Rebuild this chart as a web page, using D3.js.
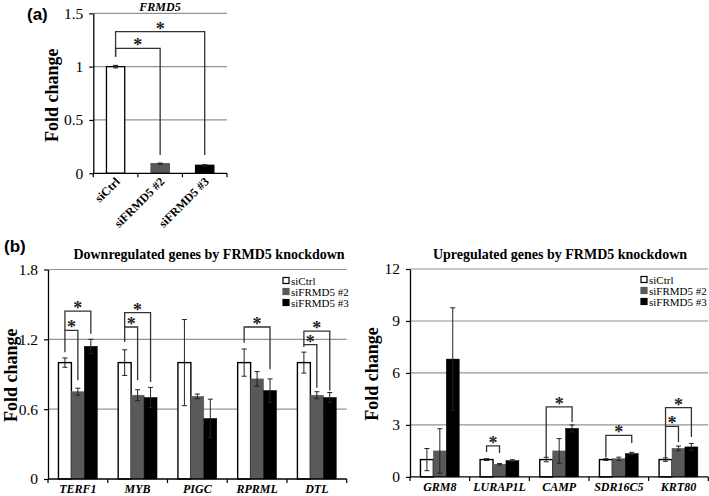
<!DOCTYPE html>
<html><head><meta charset="utf-8">
<script src="https://cdn.jsdelivr.net/npm/d3@7"></script>
<style>
body{margin:0;background:#fff;}
svg{display:block;}
text{font-family:"Liberation Serif","Times New Roman",serif;}
</style></head>
<body>
<svg id="chart" width="709" height="496"></svg>
<script>
// ---------- DATA ----------
const seriesNames = ["siCtrl", "siFRMD5 #2", "siFRMD5 #3"];
const seriesColors = ["#ffffff", "#595959", "#000000"];

// Panel (a)
const aCategories = ["siCtrl", "siFRMD5 #2", "siFRMD5 #3"];
const aValues = [1.0, 0.09, 0.075];
const aErrors = [0.012, 0.006, 0.006];
const aTicks = [0, 0.5, 1, 1.5];
// [from, to, top, leftEnd, rightEnd]
const aBrackets = [[0, 1, 1.172, 1.093, 0.172], [0, 2, 1.328, 1.093, 0.172]];

// Panel (b) left: downregulated
const downGenes = ["TERF1", "MYB", "PIGC", "RPRML", "DTL"];
const downCtrl = [1.0, 1.0, 1.0, 1.0, 1.0];
const downCtrlErr = [0.04, 0.11, 0.37, 0.117, 0.09];
const downSi2 = [0.75, 0.72, 0.71, 0.86, 0.72];
const downSi2Err = [0.03, 0.047, 0.02, 0.063, 0.03];
const downSi3 = [1.14, 0.70, 0.52, 0.76, 0.70];
const downSi3Err = [0.06, 0.087, 0.166, 0.10, 0.043];
const downTicks = [0, 0.6, 1.2, 1.8];
// [gene, from, to, top, leftEnd, rightEnd]
const downBrackets = [
  [0, 0, 1, 1.277, 1.09, 0.849],
  [0, 0, 2, 1.443, 1.277, 1.249],
  [1, 0, 1, 1.306, 1.177, 0.849],
  [1, 0, 2, 1.429, 1.306, 0.834],
  [3, 0, 2, 1.306, 1.171, 0.943],
  [4, 0, 1, 1.154, 1.134, 0.783],
  [4, 0, 2, 1.271, 1.154, 0.76]
];

// Panel (b) right: upregulated
const upGenes = ["GRM8", "LURAP1L", "CAMP", "SDR16C5", "KRT80"];
const upCtrl = [1.0, 1.0, 1.0, 1.0, 1.0];
const upCtrlErr = [0.64, 0.05, 0.13, 0.05, 0.10];
const upSi2 = [1.5, 0.73, 1.5, 1.05, 1.65];
const upSi2Err = [1.28, 0.04, 0.71, 0.09, 0.13];
const upSi3 = [6.8, 0.94, 2.8, 1.35, 1.73];
const upSi3Err = [2.96, 0.05, 0.2, 0.07, 0.2];
const upTicks = [0, 3, 6, 9, 12];
const upBrackets = [
  [1, 0, 1, 1.79, 1.44, 1.38],
  [2, 0, 2, 4.04, 1.14, 3.17],
  [3, 0, 2, 2.4, 1.12, 1.96],
  [4, 0, 1, 2.92, 1.12, 2.02],
  [4, 0, 2, 4.0, 2.92, 2.31]
];

// ---------- DRAW ----------
const svg = d3.select("#chart");
const GRID = "#939393";
const SERIF = "'Liberation Serif','Times New Roman',serif";

function yAxis(g, y, ticks, x0) {
  const ax = g.append("g").attr("transform", `translate(${x0},0)`)
    .call(d3.axisLeft(y).tickValues(ticks).tickSize(4).tickSizeOuter(0).tickPadding(6).tickFormat(d => String(d)));
  ax.attr("font-family", SERIF);
  ax.select(".domain").attr("stroke", "#000").attr("stroke-width", 1.3);
  ax.selectAll(".tick line").attr("stroke", "#000").attr("stroke-width", 1.2);
  ax.selectAll(".tick text").attr("font-size", 15.5).attr("fill", "#000")
    .attr("font-family", SERIF).style("font-family", SERIF);
}

function grid(g, y, ticks, x0, x1) {
  g.selectAll(null).data(ticks.filter(t => t !== 0)).join("line")
    .attr("x1", x0).attr("x2", x1).attr("y1", d => y(d)).attr("y2", d => y(d))
    .attr("stroke", GRID).attr("stroke-width", 1.2);
}

function errBar(g, cx, y, v, e, cap) {
  g.append("line").attr("x1", cx).attr("x2", cx).attr("y1", y(v + e)).attr("y2", y(Math.max(0, v - e)))
    .attr("stroke", "#222").attr("stroke-width", 1);
  [v + e, Math.max(0, v - e)].forEach(t => {
    g.append("line").attr("x1", cx - cap).attr("x2", cx + cap).attr("y1", y(t)).attr("y2", y(t))
      .attr("stroke", "#222").attr("stroke-width", 1);
  });
}

function bracket(g, xa, xb, y, top, la, rb) {
  const path = d3.path();
  path.moveTo(xa, y(la)); path.lineTo(xa, y(top)); path.lineTo(xb, y(top)); path.lineTo(xb, y(rb));
  g.append("path").attr("d", path.toString()).attr("fill", "none").attr("stroke", "#333").attr("stroke-width", 1.3);
  g.append("text").attr("x", (xa + xb) / 2).attr("y", y(top) + 3).attr("text-anchor", "middle")
    .attr("font-size", 18).attr("font-weight", "bold").attr("fill", "#222").text("*");
}

// ----- Panel (a) -----
{
  const g = svg.append("g");
  const x0 = 93.3, x1 = 227;
  const y = d3.scaleLinear().domain([0, 1.5]).range([173.3, 13.3]);
  const x = d3.scaleBand().domain(aCategories).range([x0, x1]).paddingInner(0.59).paddingOuter(0.295);
  const xb = d3.scaleBand().domain(aCategories).range([x0, x1]);
  grid(g, y, aTicks, x0, x1);
  aCategories.forEach((c, i) => {
    g.append("rect").attr("x", x(c)).attr("y", y(aValues[i])).attr("width", x.bandwidth())
      .attr("height", y(0) - y(aValues[i]))
      .attr("fill", seriesColors[i]).attr("stroke", i === 0 ? "#000" : seriesColors[i]).attr("stroke-width", 1.3);
    errBar(g, x(c) + x.bandwidth() / 2, y, aValues[i], aErrors[i], 2.5);
  });
  yAxis(g, y, aTicks, x0);
  g.append("line").attr("x1", x0).attr("x2", x1).attr("y1", y(0)).attr("y2", y(0)).attr("stroke", "#000").attr("stroke-width", 1.3);
  const bounds = aCategories.map(c => xb(c)).concat([x1]);
  g.selectAll(null).data(bounds).join("line").attr("x1", d => d).attr("x2", d => d)
    .attr("y1", y(0)).attr("y2", y(0) + 4).attr("stroke", "#000").attr("stroke-width", 1.2);
  aCategories.forEach((c, i) => {
    const cx = xb(c) + xb.bandwidth() / 2;
    g.append("text").attr("transform", `translate(${cx + 5},${y(0) + 9}) rotate(-45)`)
      .attr("text-anchor", "end").attr("font-size", 12).attr("font-weight", "bold").text(c);
  });
  aBrackets.forEach(b => {
    const ca = x(aCategories[b[0]]) + x.bandwidth() / 2, cb = x(aCategories[b[1]]) + x.bandwidth() / 2;
    bracket(g, ca, cb, y, b[2], b[3], b[4]);
  });
  g.append("text").attr("x", 160).attr("y", 10.5).attr("text-anchor", "middle").attr("font-size", 12)
    .attr("font-weight", "bold").attr("font-style", "italic").text("FRMD5");
  g.append("text").attr("transform", `translate(58,${(y(0) + y(1.5)) / 2 + 2}) rotate(-90)`)
    .attr("text-anchor", "middle").attr("font-size", 18).attr("font-weight", "bold").text("Fold change");
  g.append("text").attr("x", 27).attr("y", 20).attr("font-size", 17).attr("font-weight", "bold")
    .style("font-family", "'Liberation Sans',Arial,sans-serif").text("(a)");
}

// ----- Panel (b) grouped charts -----
function grouped(opts) {
  const g = svg.append("g");
  const { x0, x1, yBottom, yTop, max, ticks, genes, vals, errs, brackets, title, titleX, legendX, legendY, labelX } = opts;
  const y = d3.scaleLinear().domain([0, max]).range([yBottom, yTop]);
  const x = d3.scaleBand().domain(genes).range([x0, x1]);
  const xs = d3.scaleBand().domain(d3.range(3)).range([x.bandwidth() * 0.175, x.bandwidth() * 0.825]);
  grid(g, y, ticks, x0, x1);
  genes.forEach((gene, gi) => {
    for (let s = 0; s < 3; s++) {
      const v = vals[s][gi];
      g.append("rect").attr("x", x(gene) + xs(s)).attr("y", y(v)).attr("width", xs.bandwidth())
        .attr("height", y(0) - y(v)).attr("fill", seriesColors[s])
        .attr("stroke", s === 0 ? "#000" : seriesColors[s]).attr("stroke-width", s === 0 ? 1.4 : 0.5);
    }
  });
  genes.forEach((gene, gi) => {
    for (let s = 0; s < 3; s++) {
      errBar(g, x(gene) + xs(s) + xs.bandwidth() / 2, y, vals[s][gi], errs[s][gi], 2.5);
    }
  });
  yAxis(g, y, ticks, x0);
  g.append("line").attr("x1", x0).attr("x2", x1).attr("y1", y(0)).attr("y2", y(0)).attr("stroke", "#000").attr("stroke-width", 1.3);
  const bounds = genes.map(d => x(d)).concat([x1]);
  g.selectAll(null).data(bounds).join("line").attr("x1", d => d).attr("x2", d => d)
    .attr("y1", y(0)).attr("y2", y(0) + 4).attr("stroke", "#000").attr("stroke-width", 1.2);
  g.selectAll(null).data(genes).join("text").attr("x", d => x(d) + x.bandwidth() / 2).attr("y", y(0) + 14)
    .attr("text-anchor", "middle").attr("font-size", 12).attr("font-weight", "bold").attr("font-style", "italic")
    .text(d => d);
  brackets.forEach(b => {
    const gene = genes[b[0]];
    const ca = x(gene) + xs(b[1]) + xs.bandwidth() / 2, cb = x(gene) + xs(b[2]) + xs.bandwidth() / 2;
    bracket(g, ca, cb, y, b[3], b[4], b[5]);
  });
  g.append("text").attr("x", titleX).attr("y", 259).attr("text-anchor", "middle").attr("font-size", 14)
    .attr("font-weight", "bold").text(title);
  g.append("text").attr("transform", `translate(${labelX},${(yBottom + yTop) / 2 + 1}) rotate(-90)`)
    .attr("text-anchor", "middle").attr("font-size", 18).attr("font-weight", "bold").text("Fold change");
  seriesNames.forEach((n, i) => {
    const ly = legendY + i * 11;
    g.append("rect").attr("x", legendX).attr("y", ly - 3.5).attr("width", 6).attr("height", 6)
      .attr("fill", seriesColors[i]).attr("stroke", i === 0 ? "#000" : seriesColors[i]).attr("stroke-width", 1.2);
    g.append("text").attr("x", legendX + 8).attr("y", ly + 3.5).attr("font-size", 11).text(n);
  });
}

grouped({
  x0: 48, x1: 346.7, yBottom: 479, yTop: 269.5, max: 1.8, ticks: downTicks, genes: downGenes,
  vals: [downCtrl, downSi2, downSi3], errs: [downCtrlErr, downSi2Err, downSi3Err],
  brackets: downBrackets, title: "Downregulated genes by FRMD5 knockdown", titleX: 209,
  legendX: 283, legendY: 281, labelX: 17
});
grouped({
  x0: 410, x1: 708.3, yBottom: 476.9, yTop: 269, max: 12, ticks: upTicks, genes: upGenes,
  vals: [upCtrl, upSi2, upSi3], errs: [upCtrlErr, upSi2Err, upSi3Err],
  brackets: upBrackets, title: "Upregulated genes by FRMD5 knockdown", titleX: 560,
  legendX: 641, legendY: 280, labelX: 378
});

svg.append("text").attr("x", 4).attr("y", 252).attr("font-size", 17).attr("font-weight", "bold")
  .style("font-family", "'Liberation Sans',Arial,sans-serif").text("(b)");
</script>
</body></html>
